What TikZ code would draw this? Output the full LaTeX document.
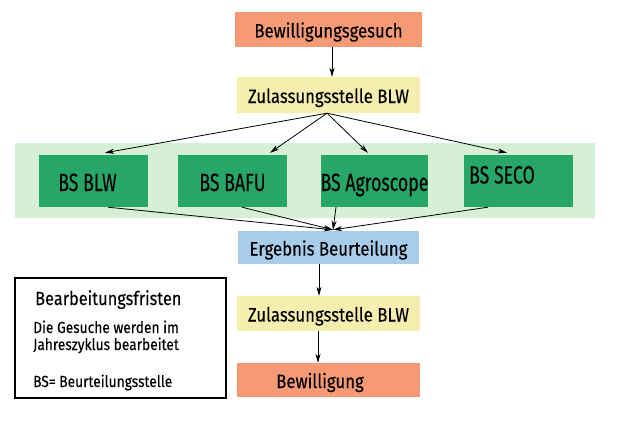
\documentclass[tikz,border=0pt]{standalone}
\usepackage{fontspec}
\setmainfont[FakeStretch=0.86, FakeBold=0.1]{Fira Sans}
\newfontfamily\bsfont[FakeStretch=0.71, FakeBold=0.1]{Fira Sans}
\usetikzlibrary{arrows.meta}
\definecolor{color_request}{HTML}{F59A74}
\definecolor{color_office}{HTML}{F6EEAE}
\definecolor{color_band}{HTML}{D5F0D4}
\definecolor{color_bs}{HTML}{26A767}
\definecolor{color_result}{HTML}{A8CDEA}
\def\arrowlinewidth{0.8pt}
\def\boxfontsize{\fontsize{19.5}{21}\selectfont}
\def\bsfontsize{\bsfont\fontsize{25}{26}\selectfont}
\def\legendfontsize{\fontsize{16}{17}\selectfont}
\def\leftpad#1{\hspace{#1}\null}
\tikzset{
    flowbox/.style={rectangle, inner sep=0pt, minimum width=183pt, minimum height=35pt,
        font=\boxfontsize, text height=16pt, text depth=0pt},
    bsbox/.style={rectangle, fill=color_bs, inner sep=0pt, minimum width=109pt, minimum height=52pt,
        font=\bsfontsize, text height=20pt, text depth=0pt},
    flowarrow/.style={line width=\arrowlinewidth, -{Stealth[length=9pt,width=5pt,inset=2.5pt]}},
}

\begin{document}
\begin{tikzpicture}[x=1pt,y=-1pt]
        \useasboundingbox (0,0) rectangle (620,420);
        \fill[white] (0,0) rectangle (620,420);
        % request and first check
        \node[flowbox, fill=color_request, minimum width=187pt] (bewgesuch) at (328.5,29.5) {Bewilligungsgesuch};
        \node[flowbox, fill=color_office, minimum height=36pt] (zul_top) at (328.5,95) {Zulassungsstelle BLW};
        % the band with the four BS
        \fill[color_band] (15,143) rectangle (595,218);
        \node[bsbox] (bs_blw) at (93.5,181) {BS BLW\leftpad{12pt}};
        \node[bsbox] (bs_bafu) at (232.5,181) {BS BAFU};
        \node[bsbox, minimum width=107pt] (bs_agro) at (374.5,181) {BS Agroscope};
        \node[bsbox, text height=5pt] (bs_seco) at (518,181) {BS SECO\leftpad{32pt}};
        % result and decision
        \node[flowbox, fill=color_result, minimum width=181pt, minimum height=33pt] (ergebnis) at (328.5,247.5) {Ergebnis Beurteilung};
        \node[flowbox, fill=color_office] (zul_bot) at (328.5,313.5) {Zulassungsstelle BLW};
        \node[flowbox, fill=color_request, minimum height=34pt] (bewilligung) at (328.5,380) {Bewilligung\leftpad{17pt}};
        % arrows
        \draw[flowarrow] ([xshift=3.5pt]bewgesuch.south) -- ([xshift=3.5pt]zul_top.north);
        \foreach \bs/\dx in {bs_blw/11.5, bs_bafu/37.5, bs_agro/-6.5, bs_seco/-11}
            \draw[flowarrow] ([xshift=-1.5pt]zul_top.south) -- ([xshift=\dx pt,yshift=2pt]\bs.north);
        \foreach \bs/\dx in {bs_blw/14.5, bs_bafu/9.5, bs_agro/-38.5, bs_seco/-30}
            \draw[flowarrow] ([xshift=\dx pt]\bs.south) -- ([xshift=4.5pt,yshift=1pt]ergebnis.north);
        \draw[flowarrow] ([xshift=-9.5pt]ergebnis.south) -- ([xshift=-9.5pt]zul_bot.north);
        \draw[flowarrow] ([xshift=-10.5pt]zul_bot.south) -- ([xshift=-10.5pt]bewilligung.north);
        % legend
        \node[draw, line width=1.1pt, inner sep=0pt, minimum width=211pt, minimum height=120pt] (legend) at (120.5,338) {};
        \node[anchor=base west, inner sep=0pt, font=\fontsize{19}{21}\selectfont] (legend_title) at (35,305) {Bearbeitungsfristen};
        \node[anchor=base west, inner sep=0pt, font=\legendfontsize] (legend_line1) at (33,333) {Die Gesuche werden im};
        \node[anchor=base west, inner sep=0pt, font=\legendfontsize] (legend_line2) at (33,350) {Jahreszyklus bearbeitet};
        \node[anchor=base west, inner sep=0pt, font=\legendfontsize] (legend_bs) at (33,387) {BS= Beurteilungsstelle};
    \end{tikzpicture}
\end{document}
